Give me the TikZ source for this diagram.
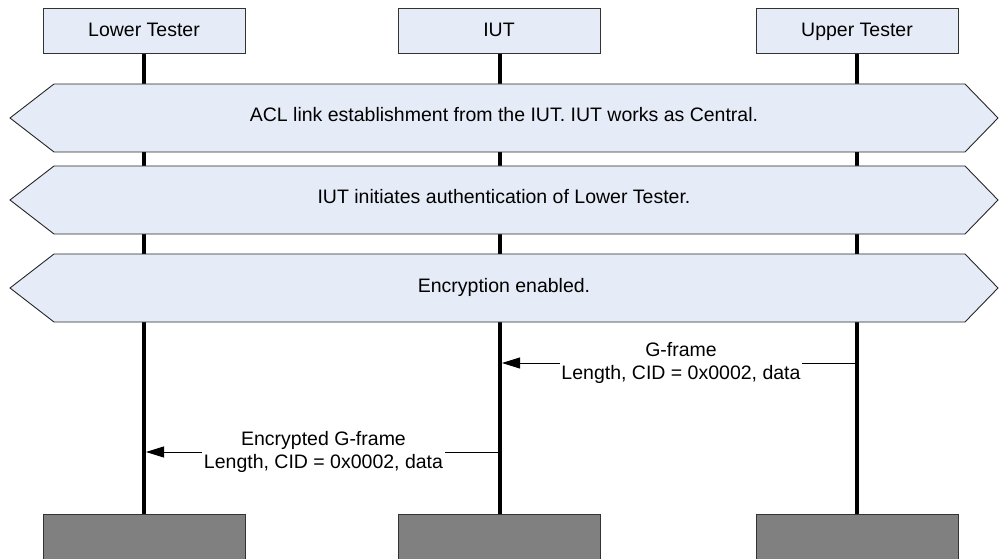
\documentclass[tikz,border=0pt]{standalone}
\usepackage{fontspec}
\setmainfont{Liberation Sans}
\usetikzlibrary{arrows.meta, positioning}
\definecolor{bandblue}{HTML}{E6ECF7}
\definecolor{footgray}{HTML}{808080}
\tikzset{
	headbox/.style={
			draw=black!80,
			fill=bandblue,
			minimum width=202pt,
			minimum height=45pt,
			inner sep=0pt,
			text height=15pt,
			text depth=2pt,
			font=\fontsize{19.5}{23}\selectfont
		},
	footbox/.style={
			draw=black!80,
			fill=footgray,
			minimum width=202pt,
			minimum height=48pt,
			inner sep=0pt
		},
	lifeline/.style={
			line width=4.5pt
		},
	hexband/.style={
			draw=black!85,
			fill=bandblue,
			line width=0.9pt
		},
	bandtext/.style={
			text height=14pt,
			text depth=4pt,
			font=\fontsize{19.5}{23}\selectfont
		},
	msgarrow/.style={
			-{Triangle[length=18pt,width=11pt]},
			line width=0.9pt
		},
	msgtext/.style={
			fill=white,
			inner sep=1.5pt,
			align=center,
			font=\fontsize{19.5}{23}\selectfont
		}
}

\begin{document}
\begin{tikzpicture}[x=1pt,y=-1pt]
\useasboundingbox (0,0) rectangle (999,559);

% lifelines
\coordinate (ltTop) at (144,53);
\coordinate (iutTop) at (500,53);
\coordinate (utTop) at (857,53);
\coordinate (ltBot) at (144,514);
\coordinate (iutBot) at (500,514);
\coordinate (utBot) at (857,514);
\draw[lifeline] (ltTop) -- (ltBot);
\draw[lifeline] (iutTop) -- (iutBot);
\draw[lifeline] (utTop) -- (utBot);

% bands
\draw[hexband] (54,84) -- (965,84) -- (998,118) -- (965,152) -- (54,152) -- (10,118) -- cycle;
\node[bandtext] (bAcl) at (504,117) {ACL link establishment from the IUT. IUT works as Central.};
\draw[hexband] (54,166) -- (965,166) -- (998,200) -- (965,234) -- (54,234) -- (10,200) -- cycle;
\node[bandtext] (bAuth) at (504,199) {IUT initiates authentication of Lower Tester.};
\draw[hexband] (54,254) -- (965,254) -- (998,288) -- (965,322) -- (54,322) -- (10,288) -- cycle;
\node[bandtext] (bEnc) at (504,287) {Encryption enabled.};

% heads and feet
\node[headbox] (hLT) at (144,30.5) {Lower Tester};
\node[headbox] (hIUT) at (499,30.5) {IUT};
\node[headbox] (hUT) at (857,30.5) {Upper Tester};
\node[footbox] (fLT) at (144,538) {};
\node[footbox] (fIUT) at (499,538) {};
\node[footbox] (fUT) at (857,538) {};

% messages
\coordinate (mUT) at (857,363);
\coordinate (mIUTa) at (502,363);
\draw[msgarrow] (mUT) -- (mIUTa);
\node[msgtext] (lGframe) at (681,362.5) {G-frame\\Length, CID = 0x0002, data};

\coordinate (mIUTb) at (500,452);
\coordinate (mLT) at (146,452);
\draw[msgarrow] (mIUTb) -- (mLT);
\node[msgtext] (lEnc) at (323.5,451.5) {Encrypted G-frame\\Length, CID = 0x0002, data};

\end{tikzpicture}
\end{document}
